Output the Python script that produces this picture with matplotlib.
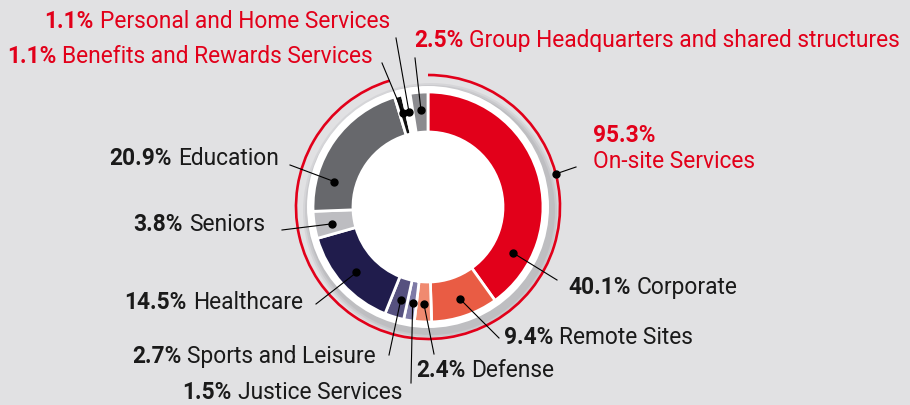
import numpy as np
import matplotlib.pyplot as plt
from matplotlib.patches import Circle, Arc

plt.rcParams['font.family'] = ['Roboto', 'DejaVu Sans']

W, H = 910, 405

# data: segments clockwise from 12 o'clock
names = ["Corporate", "Remote Sites", "Defense", "Justice Services", "Sports and Leisure",
         "Healthcare", "Seniors", "Education", "Benefits and Rewards Services",
         "Personal and Home Services", "Group Headquarters and shared structures"]
shares = [40.1, 9.4, 2.4, 1.5, 2.7, 14.5, 3.8, 20.9, 1.1, 1.1, 2.5]
colors = ["#e2001a", "#e95c44", "#f08a70", "#7e7aa6", "#56517f", "#201c4c",
          "#bdbdc1", "#67686c", "#111111", "#ffffff", "#8b8b8f"]
red_names = ["Benefits and Rewards Services", "Personal and Home Services",
             "Group Headquarters and shared structures"]
onsite_name = "On-site Services"
onsite_share = 95.3

RED = "#e2001a"
BG = "#e1e1e3"

# layout (image pixel coords, y down)
cx, cy = 428, 207
dot_frac = [0.82, 0.49, 0.49, 0.42, 0.42, 0.49, 0.43, 0.23, 0.5, 0.42, 0.54]
line_end = [(557, 280), (499, 338), (434, 354), (411, 383), (389, 355), (316, 304),
            (282, 230), (290, 165), (382, 63), (396, 38), (415, 58)]
text_pos = [(568, 294, 'left'), (504, 344, 'left'), (416, 377, 'left'),
            (402, 399, 'right'), (376, 363, 'right'), (303, 309, 'right'),
            (265, 231, 'right'), (279, 165, 'right'), (373, 63, 'right'),
            (390, 28, 'right'), (414, 47, 'left')]
FS = 16.4


def Y(y):
    return H - y


fig = plt.figure(figsize=(W / 100, H / 100), dpi=100, facecolor=BG)
ax = fig.add_axes([0, 0, 1, 1])
ax.set_facecolor(BG)

# shadow + white backing ring
for r, a in [(128, 0.25), (126, 0.35), (124, 0.5)]:
    ax.add_patch(Circle((cx + 3, Y(cy + 4)), r, color="#b4b4b8", alpha=a, lw=0, zorder=1))
ax.add_patch(Circle((cx, Y(cy)), 121, color="white", lw=0, zorder=2))

wedges, _ = ax.pie(shares, colors=colors, startangle=90, counterclock=False,
                   radius=115, center=(cx, Y(cy)),
                   wedgeprops=dict(width=40, edgecolor="white", linewidth=2))
for w in wedges:
    w.set_zorder(3)

# red arc around on-site segments
n_on = len(shares) - len(red_names)
on_deg = sum(shares[:n_on]) / sum(shares) * 360
ax.add_patch(Arc((cx, Y(cy)), 264, 264, theta1=90 - on_deg + 360, theta2=450,
                 color=RED, lw=1.9, zorder=2))

ax.set_xlim(0, W)
ax.set_ylim(0, H)
ax.set_aspect("equal")
ax.set_axis_off()

fig.canvas.draw()
renderer = fig.canvas.get_renderer()


def label(x, y, pct, name, ha, color):
    if ha == 'left':
        t1 = ax.text(x, Y(y), pct, fontsize=FS, fontweight='bold', color=color,
                     ha='left', va='baseline')
        bb = t1.get_window_extent(renderer)
        ax.text(bb.x1 + 6, Y(y), name, fontsize=FS, color=color, ha='left', va='baseline')
    else:
        t2 = ax.text(x, Y(y), name, fontsize=FS, color=color, ha='right', va='baseline')
        bb = t2.get_window_extent(renderer)
        ax.text(bb.x0 - 6, Y(y), pct, fontsize=FS, fontweight='bold', color=color,
                ha='right', va='baseline')


total = sum(shares)
start = 0.0
for i, (n, s) in enumerate(zip(names, shares)):
    span = s / total * 360
    th = np.radians(90 - (start + dot_frac[i] * span))
    start += span
    dx, dy = cx + 97 * np.cos(th), Y(cy) + 97 * np.sin(th)
    ex, ey = line_end[i]
    ax.plot([dx, ex], [dy, Y(ey)], color="black", lw=0.8, zorder=5)
    ax.plot(dx, dy, "o", color="black", ms=5, zorder=6)
    x, y, ha = text_pos[i]
    color = RED if n in red_names else "#1a1a1a"
    label(x, y, f"{s:.1f}%", n, ha, color)

# on-site summary label
th = np.radians(90 - 0.22 * on_deg)
dx, dy = cx + 132 * np.cos(th), Y(cy) + 132 * np.sin(th)
ax.plot([dx, 576], [dy, Y(167)], color="black", lw=0.8, zorder=5)
ax.plot(dx, dy, "o", color="black", ms=5, zorder=6)
ax.text(593, Y(142), f"{onsite_share:.1f}%", fontsize=FS, fontweight='bold', color=RED,
        ha='left', va='baseline')
ax.text(593, Y(168), onsite_name, fontsize=FS, color=RED, ha='left', va='baseline')

fig.savefig("out.png", dpi=100, facecolor=BG)
